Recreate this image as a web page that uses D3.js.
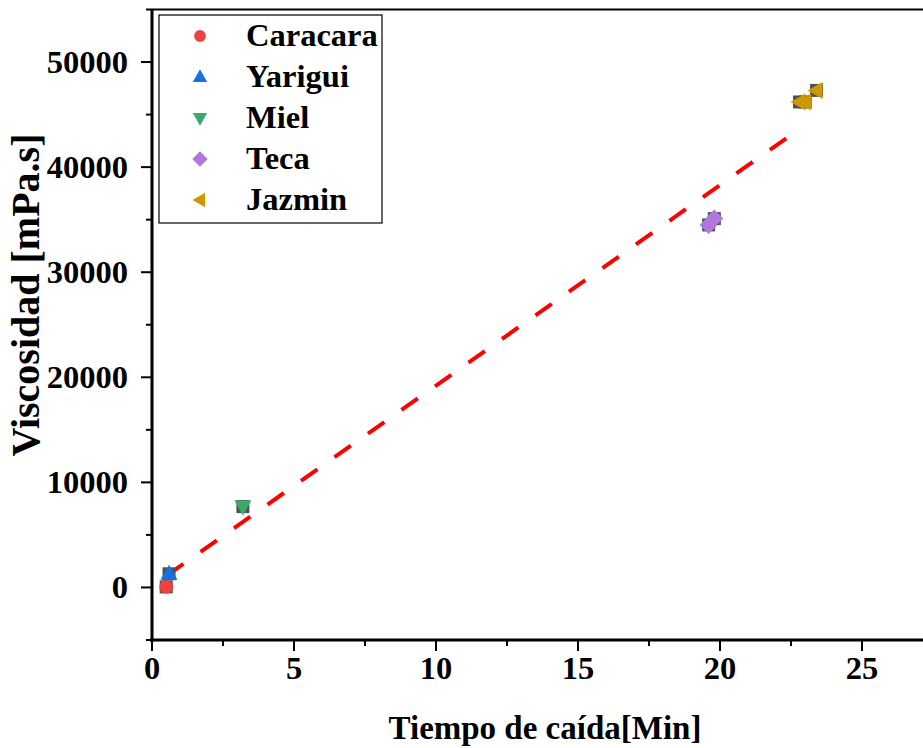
<!DOCTYPE html>
<html>
<head>
<meta charset="utf-8">
<script src="https://cdn.jsdelivr.net/npm/d3@7/dist/d3.min.js"></script>
<style>
  body { margin: 0; background: #fff; }
  text { font-family: "Liberation Serif", "Times New Roman", serif; font-weight: bold; }
</style>
</head>
<body>
<div id="chart"></div>
<script>
// series names and colors
const seriesNames = ['Caracara', 'Yarigui', 'Miel', 'Teca', 'Jazmin'];
const seriesColors = ['#F14040', '#1A6FDF', '#37AD6B', '#B177DE', '#CC9900'];
const seriesShapes = ['circle', 'triangleUp', 'triangleDown', 'diamond', 'triangleLeft'];

// measured points [time min, viscosity mPa.s]
const caracara = [[0.5, 50]];
const yarigui = [[0.6, 1300]];
const miel = [[3.2, 7700]];
const teca = [[19.6, 34500], [19.8, 35100]];
const jazmin = [[22.8, 46200], [23.0, 46200], [23.4, 47300]];
const seriesData = [caracara, yarigui, miel, teca, jazmin];

// linear fit (dashed red)
const fitLine = [[0.53, 1140], [22.64, 43330]];

const xTicks = [0, 5, 10, 15, 20, 25];
const xMinor = [2.5, 7.5, 12.5, 17.5, 22.5, 27.5];
const yTicks = [0, 10000, 20000, 30000, 40000, 50000];
const yMinor = [-5000, 5000, 15000, 25000, 35000, 45000, 55000];

const width = 923, height = 748;
const svg = d3.select('#chart').append('svg')
    .attr('width', width)
    .attr('height', height);

const x = d3.scaleLinear().domain([0, 28]).range([152, 152 + 28 * 28.4]);
const y = d3.scaleLinear().domain([-5000, 55000]).range([640, 9.5]);

// frame top
svg.append('line')
    .attr('x1', 152).attr('x2', width)
    .attr('y1', y(55000)).attr('y2', y(55000))
    .style('stroke', '#000').style('stroke-width', 2);

// fit line
svg.append('path')
    .datum(fitLine)
    .attr('d', d3.line().x(d => x(d[0])).y(d => y(d[1])))
    .style('fill', 'none')
    .style('stroke', '#ff0000')
    .style('stroke-width', 4)
    .style('stroke-dasharray', '20,21');

// symbols
function symbolPath(shape) {
    if (shape === 'circle') return d3.symbol(d3.symbolCircle, 150)();
    if (shape === 'diamond') return 'M0,-9L9,0L0,9L-9,0Z';
    if (shape === 'triangleUp') return 'M0,-9L8.5,6L-8.5,6Z';
    if (shape === 'triangleDown') return 'M0,9L8.5,-6L-8.5,-6Z';
    if (shape === 'triangleLeft') return 'M-9,0L6,-8.5L6,8.5Z';
}

const points = svg.append('g');
seriesData.forEach((data, i) => {
    // dark square behind each point
    points.selectAll(null)
        .data(data)
        .enter().append('rect')
        .attr('x', d => x(d[0]) - 6.5)
        .attr('y', d => y(d[1]) - 6.5)
        .attr('width', 13).attr('height', 13)
        .style('fill', '#515151');
    points.selectAll(null)
        .data(data)
        .enter().append('path')
        .attr('d', symbolPath(seriesShapes[i]))
        .attr('transform', d => `translate(${x(d[0])},${y(d[1])})`)
        .style('fill', seriesColors[i]);
});

// x axis
const xAxis = svg.append('g').attr('transform', 'translate(0,640)');
xAxis.append('line')
    .attr('x1', 150).attr('x2', width)
    .style('stroke', '#000').style('stroke-width', 3);
xAxis.selectAll('.maj').data(xTicks).enter().append('line')
    .attr('x1', d => x(d)).attr('x2', d => x(d))
    .attr('y1', 0).attr('y2', 11)
    .style('stroke', '#000').style('stroke-width', 2);
xAxis.selectAll('.min').data(xMinor).enter().append('line')
    .attr('x1', d => x(d)).attr('x2', d => x(d))
    .attr('y1', 0).attr('y2', 6)
    .style('stroke', '#000').style('stroke-width', 2);
xAxis.selectAll('text').data(xTicks).enter().append('text')
    .attr('x', d => x(d)).attr('y', 39)
    .attr('text-anchor', 'middle')
    .style('font-size', '32.5px')
    .text(d => d);

// y axis
const yAxis = svg.append('g').attr('transform', 'translate(152,0)');
yAxis.append('line')
    .attr('y1', 9).attr('y2', 642)
    .style('stroke', '#000').style('stroke-width', 3);
yAxis.selectAll('.maj').data(yTicks).enter().append('line')
    .attr('y1', d => y(d)).attr('y2', d => y(d))
    .attr('x1', 0).attr('x2', -11)
    .style('stroke', '#000').style('stroke-width', 2);
yAxis.selectAll('.min').data(yMinor).enter().append('line')
    .attr('y1', d => y(d)).attr('y2', d => y(d))
    .attr('x1', 0).attr('x2', -6)
    .style('stroke', '#000').style('stroke-width', 2);
yAxis.selectAll('text').data(yTicks).enter().append('text')
    .attr('x', -24).attr('y', d => y(d) + 11)
    .attr('text-anchor', 'end')
    .style('font-size', '32.5px')
    .text(d => d);

// axis titles
svg.append('text')
    .attr('x', 545).attr('y', 739)
    .attr('text-anchor', 'middle')
    .style('font-size', '33px')
    .text('Tiempo de caída[Min]');
svg.append('text')
    .attr('transform', 'translate(39,295) rotate(-90)')
    .attr('text-anchor', 'middle')
    .style('font-size', '40px')
    .text('Viscosidad [mPa.s]');

// legend
const legend = svg.append('g');
legend.append('rect')
    .attr('x', 159).attr('y', 15)
    .attr('width', 223).attr('height', 208)
    .style('fill', '#fff')
    .style('stroke', '#000').style('stroke-width', 1.2);
const rows = legend.selectAll('g.row').data(seriesNames).enter().append('g')
    .attr('transform', (d, i) => `translate(0,${36 + i * 41})`);
rows.append('path')
    .attr('d', (d, i) => symbolPath(seriesShapes[i]))
    .attr('transform', 'translate(200,0) scale(0.85)')
    .style('fill', (d, i) => seriesColors[i]);
rows.append('text')
    .attr('x', 246).attr('y', 10)
    .style('font-size', '32.5px')
    .text(d => d);
</script>
</body>
</html>
